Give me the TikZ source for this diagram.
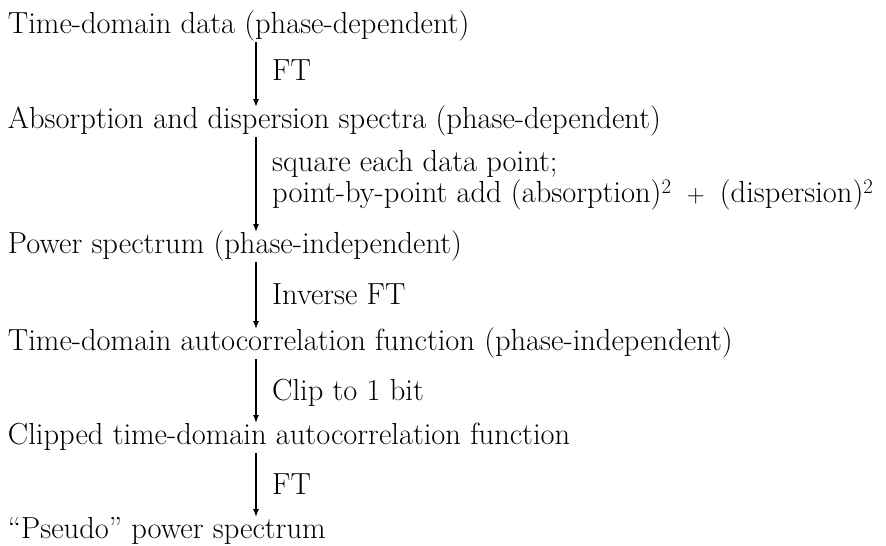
\documentclass[tikz,border=0pt]{standalone}
\usetikzlibrary{arrows.meta}
\begin{document}
\begin{tikzpicture}[x=1pt, y=-1pt,
		font=\fontsize{30.5}{31}\selectfont,
		stage/.style={anchor=base west, inner sep=0pt, outer sep=0pt, text height=21pt, text depth=9pt},
		note/.style={anchor=base west, inner sep=0pt},
		flow/.style={line width=1.4pt, -{Latex[length=8pt,width=6pt]}}]
		\useasboundingbox (0,0) rectangle (886,546);
		
		%processing stages
		\node[stage] (s1) at (8, 33){Time-domain data (phase-dependent)};
		\node[stage] (s2) at (8, 128){Absorption and dispersion spectra (phase-dependent)};
		\node[stage] (s3) at (8, 253){Power spectrum (phase-independent)};
		\node[stage] (s4) at (8, 350){Time-domain autocorrelation function (phase-independent)};
		\node[stage] (s5) at (8, 444){Clipped time-domain autocorrelation function};
		\node[stage] (s6) at (8, 538){``Pseudo'' power spectrum};
		
		%arrows down the column
		\coordinate (col) at (256, 0);
		\draw[flow] (s1.south -| col) -- (s2.north -| col);
		\draw[flow] (s2.south -| col) -- (s3.north -| col);
		\draw[flow] (s3.south -| col) -- (s4.north -| col);
		\draw[flow] (s4.south -| col) -- (s5.north -| col);
		\draw[flow] (s5.south -| col) -- (s6.north -| col);
		
		%operations
		\node[note] (op1) at (272, 80){FT};
		\node[anchor=west, inner sep=0pt, align=left] (op2) at (272, 180){square each data point;\\
			point-by-point add (absorption)$^2$\enspace$+$\enspace(dispersion)$^2$};
		\node[note] (op3) at (272, 304){Inverse FT};
		\node[note] (op4) at (272, 400){Clip to 1 bit};
		\node[note] (op5) at (272, 494){FT};
\end{tikzpicture}
\end{document}
